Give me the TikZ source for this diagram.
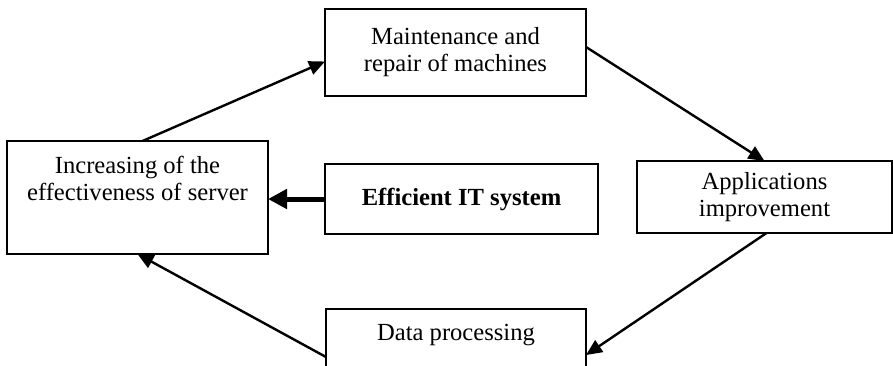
\documentclass[tikz,border=0pt]{standalone}
\usepackage{fontspec}
\setmainfont{Liberation Serif}
\usetikzlibrary{positioning, arrows.meta, calc}

\begin{document}
\begin{tikzpicture}[
        x=0.5pt, y=-0.5pt,
        every node/.style={font=\fontsize{12.3}{13.5}\selectfont},
        box/.style={draw, line width=1pt, inner sep=0pt, outer sep=0pt, align=center},
        flow/.style={line width=1.2pt, -{Triangle[length=8pt, width=7pt]}},
        strong/.style={line width=2.5pt, -{Triangle[length=9.5pt, width=9.5pt]}}
    ]
    \useasboundingbox (0,0) rectangle (893,365);

    \node[box, minimum width=130.5pt, minimum height=56.5pt,
        label={[anchor=north, align=center, yshift=-4pt]north:Increasing of the\\effectiveness of server}] (server) at (137.5,197.5) {};
    \node[box, minimum width=130.5pt, minimum height=43.5pt] (maint) at (455.5,52.5) {Maintenance and\\repair of machines};
    \node[box, minimum width=136.5pt, minimum height=35pt, font=\fontsize{12.3}{13.5}\selectfont\bfseries] (itsys) at (461.5,199) {Efficient IT system};
    \node[box, minimum width=127.5pt, minimum height=36pt] (apps) at (764.5,197) {Applications\\improvement};
    \node[box, minimum width=130pt, minimum height=35pt,
        label={[anchor=north, yshift=-4pt]north:Data processing}] (data) at (456,344) {};

    \draw[flow] ([xshift=2.5pt]server.north) -- ([yshift=-4.5pt]maint.west);
    \draw[flow] ([yshift=2.75pt]maint.east) -- (apps.north);
    \draw[flow] ([xshift=1pt]apps.south) -- ([yshift=-5.5pt]data.east);
    \draw[flow] ([yshift=-6.5pt]data.west) -- (server.south);
    \draw[strong] (itsys.west) -- (itsys.west -| server.east);
\end{tikzpicture}
\end{document}
